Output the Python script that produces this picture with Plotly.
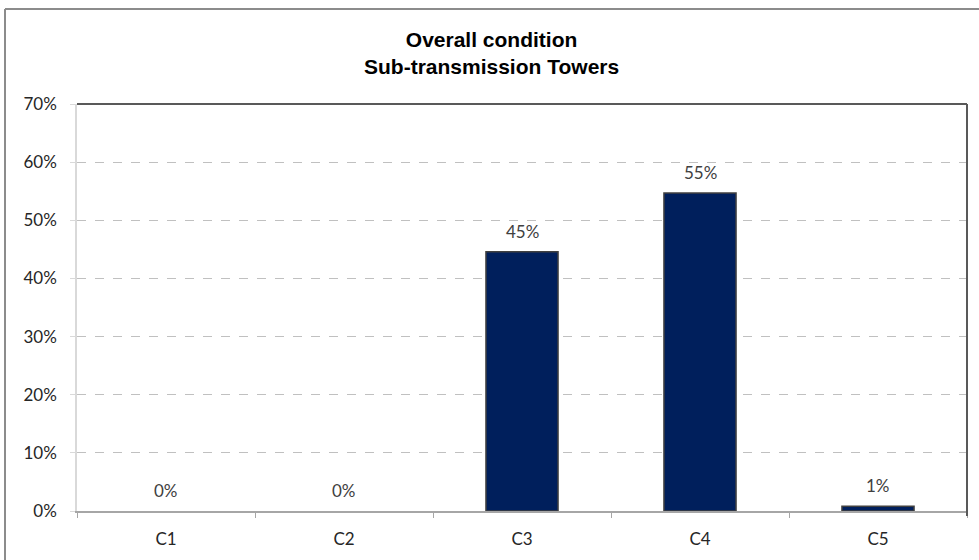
import plotly.graph_objects as go

# Condition grade shares for sub-transmission towers
categories = ["C1", "C2", "C3", "C4", "C5"]
shares = [0.0, 0.0, 0.446, 0.547, 0.008]
y_ticks = [0, 0.1, 0.2, 0.3, 0.4, 0.5, 0.6, 0.7]
y_tick_labels = ["0%", "10%", "20%", "30%", "40%", "50%", "60%", "70%"]
title_lines = ["Overall condition", "Sub-transmission Towers"]

W, H = 979, 560
L, R, T, B = 77, 12, 104, 49
pw, ph = W - L - R, H - T - B
FONT = "Lato, Open Sans, sans-serif"


def px_x(x):
    return (x - L) / pw


def px_y(y):
    return (H - B - y) / ph


fig = go.Figure(
    go.Bar(
        x=categories,
        y=shares,
        marker=dict(
            color="#001f5c",
            # no outline on empty bars so they leave no stub on the axis
            line=dict(color="#404040", width=[1.5 if v > 0 else 0 for v in shares]),
        ),
        width=0.405,
        hoverinfo="x+y",
    )
)

# value labels above each bar
label_annotations = [
    dict(
        x=c, y=v, xref="x", yref="y",
        text=f"{v:.0%}",
        showarrow=False,
        yanchor="bottom",
        yshift=8,
        font=dict(family=FONT, size=17, color="#404040"),
    )
    for c, v in zip(categories, shares)
]

# two-line bold chart title
title_annotation = dict(
    text="<b>" + "<br>".join(title_lines) + "</b>",
    x=px_x(491), y=px_y(53),
    xref="paper", yref="paper",
    xanchor="center", yanchor="middle",
    showarrow=False,
    font=dict(family="Liberation Sans, Arial, sans-serif", size=21, color="black"),
)

fig.update_layout(
    width=W,
    height=H,
    margin=dict(l=L, r=R, t=T, b=B),
    paper_bgcolor="white",
    plot_bgcolor="white",
    showlegend=False,
    font=dict(family=FONT, size=17, color="#262626"),
    xaxis=dict(
        showgrid=False,
        showline=True,
        linecolor="#a6a6a6",
        linewidth=1.5,
        ticks="outside",
        tickson="boundaries",
        ticklen=5,
        tickcolor="#a6a6a6",
        tickfont=dict(size=17, color="#262626"),
        ticklabelstandoff=12,
        range=[-0.5, 4.5],
    ),
    yaxis=dict(
        range=[0, 0.7],
        tickvals=y_ticks,
        ticktext=y_tick_labels,
        showgrid=True,
        gridcolor="#c0c0c0",
        griddash="dash",
        gridwidth=1,
        showline=True,
        linecolor="#d9d9d9",
        linewidth=1.5,
        ticks="outside",
        ticklen=5,
        tickcolor="#d9d9d9",
        tickfont=dict(size=17, color="#262626"),
        ticklabelstandoff=10,
        zeroline=False,
    ),
    annotations=label_annotations + [title_annotation],
    shapes=[
        # outer chart border (top and left edges)
        dict(type="line", xref="paper", yref="paper",
             x0=px_x(5), x1=px_x(985), y0=px_y(9), y1=px_y(9),
             line=dict(color="#8c8c8c", width=2)),
        dict(type="line", xref="paper", yref="paper",
             x0=px_x(5), x1=px_x(5), y0=px_y(9), y1=px_y(570),
             line=dict(color="#8c8c8c", width=2)),
        # plot-area frame: top and right edges
        dict(type="line", xref="paper", yref="paper",
             x0=0, x1=1, y0=1, y1=1,
             line=dict(color="#595959", width=2)),
        dict(type="line", xref="paper", yref="paper",
             x0=1, x1=1, y0=px_y(516), y1=1,
             line=dict(color="#595959", width=2)),
    ],
)

fig.write_html("out.html")
